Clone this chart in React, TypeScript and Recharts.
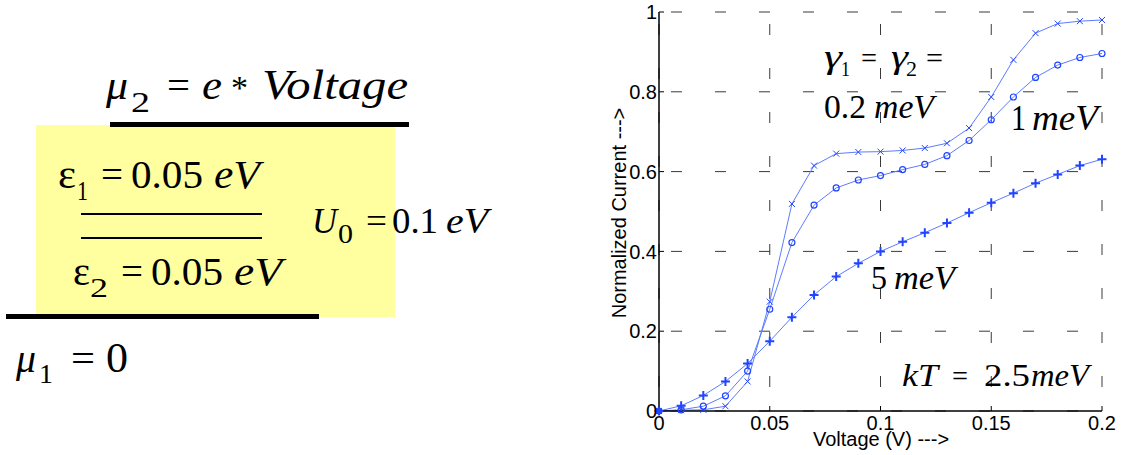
import React from 'react';
import { LineChart, Line, XAxis, YAxis, CartesianGrid } from 'recharts';

// bias voltage (V)
const voltage = [0, 0.01, 0.02, 0.03, 0.04, 0.05, 0.06, 0.07, 0.08, 0.09, 0.1, 0.11, 0.12, 0.13, 0.14, 0.15, 0.16, 0.17, 0.18, 0.19, 0.2];
// normalized current for gamma1 = gamma2 = 0.2 meV, 1 meV, 5 meV
const gamma02 = [0, 0.002, 0.003, 0.012, 0.074, 0.274, 0.519, 0.615, 0.645, 0.649, 0.65, 0.653, 0.659, 0.671, 0.709, 0.787, 0.88, 0.947, 0.971, 0.977, 0.98];
const gamma1 = [0, 0.003, 0.012, 0.038, 0.1, 0.255, 0.422, 0.516, 0.559, 0.579, 0.59, 0.605, 0.618, 0.64, 0.678, 0.73, 0.787, 0.836, 0.867, 0.886, 0.896];
const gamma5 = [0, 0.013, 0.039, 0.074, 0.119, 0.175, 0.235, 0.291, 0.337, 0.37, 0.4, 0.424, 0.447, 0.471, 0.497, 0.522, 0.546, 0.571, 0.593, 0.615, 0.631];

const xTicks = [0, 0.05, 0.1, 0.15, 0.2];
const yTicks = [0, 0.2, 0.4, 0.6, 0.8, 1];

const data = voltage.map((v, i) => ({ v, a: gamma02[i], b: gamma1[i], c: gamma5[i] }));

const LINE = '#5d7cff';
const MARK = '#2144ff';
const SERIF = "'Liberation Serif', 'Times New Roman', Times, Tinos, 'Noto Serif', 'DejaVu Serif', 'Nimbus Roman', FreeSerif, serif";
const SANS = "'Liberation Sans', Arial, sans-serif";

const CrossDot = (p: any) => {
  const { cx, cy } = p;
  return (
    <path key={p.key} d={`M${cx - 3},${cy - 3}L${cx + 3},${cy + 3}M${cx - 3},${cy + 3}L${cx + 3},${cy - 3}`} stroke={MARK} strokeWidth={1} fill="none" />
  );
};

const CircleDot = (p: any) => <circle key={p.key} cx={p.cx} cy={p.cy} r={3} stroke={MARK} strokeWidth={1.2} fill="none" />;

const PlusDot = (p: any) => {
  const { cx, cy } = p;
  return <path key={p.key} d={`M${cx - 4.5},${cy}L${cx + 4.5},${cy}M${cx},${cy - 4.5}L${cx},${cy + 4.5}`} stroke={MARK} strokeWidth={2} fill="none" />;
};

// piece of equation text placed at its own x
function T({ x, y, s, size, it, len }: { x: number; y: number; s: string; size: number; it?: boolean; len?: number }) {
  return (
    <text x={x} y={y} fill="#000" textLength={len} lengthAdjust={len ? 'spacingAndGlyphs' : undefined}
      style={{ fontFamily: SERIF, fontSize: size, fontStyle: it ? 'italic' : 'normal' }}>
      {s}
    </text>
  );
}

function Diagram() {
  return (
    <svg width={1135} height={455} style={{ position: 'absolute', left: 0, top: 0, pointerEvents: 'none' }}>
      <rect x={36} y={125} width={359} height={192} fill="#ffff9f" />
      <rect x={110} y={122} width={299} height={5} fill="#000" />
      <rect x={6} y={314} width={313} height={5} fill="#000" />
      <rect x={81} y={213} width={181} height={2} fill="#000" />
      <rect x={81} y={237} width={181} height={2} fill="#000" />

      <T x={106} y={99} s="μ" size={42} it len={22} />
      <T x={131} y={112} s="2" size={30} len={19} />
      <T x={167} y={99} s="=" size={40} len={23} />
      <T x={202} y={99} s="e" size={42} it len={20} />
      <T x={231} y={99} s="*" size={34} len={17} />
      <T x={262} y={99} s="Voltage" size={42} it len={146} />

      <T x={58} y={188} s="ε" size={40} len={18} />
      <T x={77} y={200} s="1" size={28} len={11} />
      <T x={101} y={188} s="=" size={40} len={22} />
      <T x={131} y={188} s="0.05" size={40} len={72} />
      <T x={214} y={188} s="eV" size={40} it len={46} />

      <T x={73} y={285} s="ε" size={40} len={17} />
      <T x={90} y={297} s="2" size={28} len={18} />
      <T x={121} y={285} s="=" size={40} len={22} />
      <T x={151} y={285} s="0.05" size={40} len={72} />
      <T x={234} y={285} s="eV" size={40} it len={48} />

      <T x={312} y={233} s="U" size={36} it len={25} />
      <T x={338} y={243} s="0" size={27} len={15} />
      <T x={366} y={233} s="=" size={36} len={21} />
      <T x={392} y={233} s="0.1" size={36} len={46} />
      <T x={446} y={233} s="eV" size={36} it len={42} />

      <T x={16} y={372} s="μ" size={40} it len={20} />
      <T x={39} y={383} s="1" size={28} len={14} />
      <T x={71} y={372} s="=" size={40} len={24} />
      <T x={106} y={372} s="0" size={42} len={22} />

      {/* chart annotations */}
      <T x={824} y={68} s="γ" size={33} it len={18} />
      <T x={841} y={76} s="1" size={22} len={9} />
      <T x={861} y={68} s="=" size={30} len={16} />
      <T x={891} y={68} s="γ" size={33} it len={17} />
      <T x={906} y={76} s="2" size={22} len={11} />
      <T x={926} y={68} s="=" size={30} len={17} />
      <T x={824} y={118} s="0.2" size={33} len={42} />
      <T x={874} y={118} s="meV" size={33} it len={60} />
      <T x={1011} y={130} s="1" size={36} len={15} />
      <T x={1032} y={130} s="meV" size={36} it len={66} />
      <T x={871} y={289} s="5" size={34} len={16} />
      <T x={894} y={289} s="meV" size={34} it len={61} />
      <T x={902} y={386} s="kT" size={32} it len={36} />
      <T x={952} y={386} s="=" size={30} len={16} />
      <T x={984} y={386} s="2.5" size={32} len={46} />
      <T x={1031} y={386} s="meV" size={32} it len={58} />

      <text x={881} y={446} textAnchor="middle" fill="#000" style={{ fontFamily: SANS, fontSize: 20 }}>Voltage (V) ---&gt;</text>
      <text x={626} y={213} textAnchor="middle" fill="#000" transform="rotate(-90 626 213)" style={{ fontFamily: SANS, fontSize: 20 }}>Normalized Current ---&gt;</text>
    </svg>
  );
}

export default function App() {
  return (
    <div style={{ position: 'relative', width: 1135, height: 455, background: '#fff', overflow: 'hidden' }}>
      <style>{'body{margin:0}'}</style>
      <div style={{ position: 'absolute', left: 600, top: 0 }}>
        <LineChart width={535} height={455} data={data} margin={{ top: 12, right: 33, bottom: 0, left: 0 }}>
          <CartesianGrid stroke="#3a3a3a" strokeDasharray="11 33" strokeDashoffset={32} />
          <XAxis dataKey="v" type="number" domain={[0, 0.2]} ticks={xTicks} height={44} tickSize={-5} tickMargin={10}
            axisLine={{ stroke: '#000', strokeWidth: 1.5 }} tickLine={{ stroke: '#000' }}
            tick={{ fill: '#000', fontSize: 20, fontFamily: SANS }} interval={0} />
          <XAxis xAxisId="top" orientation="top" type="number" domain={[0, 0.2]} ticks={xTicks} height={0} tickSize={-5}
            axisLine={{ stroke: '#000', strokeWidth: 1.5 }} tickLine={{ stroke: '#000' }} tick={false} />
          <YAxis type="number" domain={[0, 1]} ticks={yTicks} width={59} tickSize={-5} tickMargin={7}
            axisLine={{ stroke: '#000', strokeWidth: 1.5 }} tickLine={{ stroke: '#000' }}
            tick={{ fill: '#000', fontSize: 20, fontFamily: SANS }} interval={0} />
          <YAxis yAxisId="right" orientation="right" type="number" domain={[0, 1]} ticks={yTicks} width={0} tickSize={-5}
            axisLine={{ stroke: '#000', strokeWidth: 1.5 }} tickLine={{ stroke: '#000' }} tick={false} />
          <Line dataKey="c" stroke={LINE} strokeWidth={1} dot={PlusDot} isAnimationActive={false} />
          <Line dataKey="b" stroke={LINE} strokeWidth={1} dot={CircleDot} isAnimationActive={false} />
          <Line dataKey="a" stroke={LINE} strokeWidth={1} dot={CrossDot} isAnimationActive={false} />
        </LineChart>
      </div>
      <Diagram />
    </div>
  );
}
